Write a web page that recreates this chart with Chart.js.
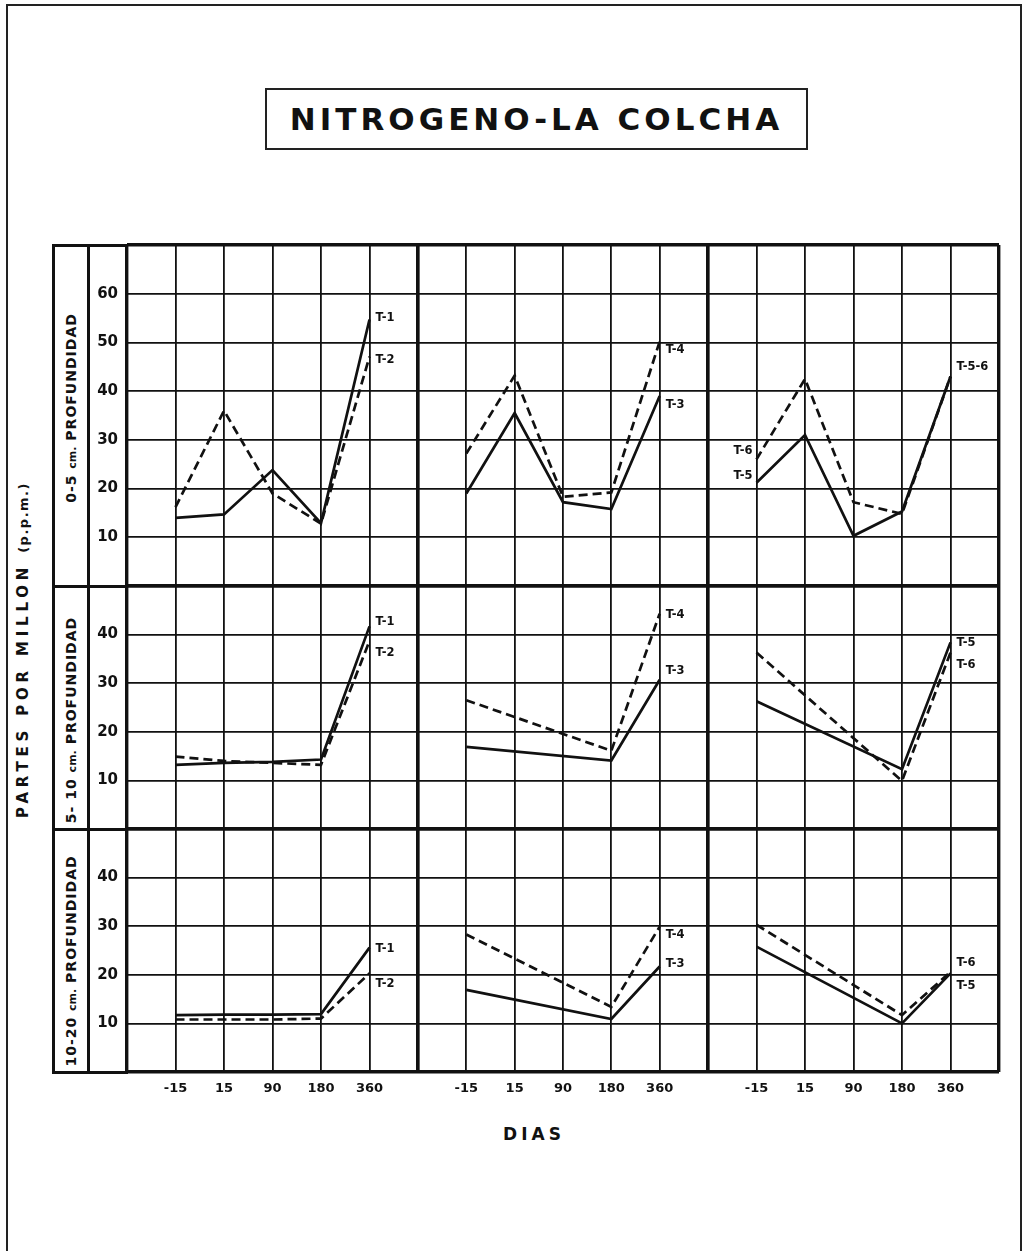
<!DOCTYPE html>
<html>
<head>
<meta charset="utf-8">
<title>Nitrógeno - La Colcha</title>
<script src="https://cdn.jsdelivr.net/npm/chart.js@4.4.1/dist/chart.umd.min.js"></script>
<style>
  html, body { margin: 0; padding: 0; background: #fff; }
  #page { position: relative; width: 1028px; height: 1251px; overflow: hidden;
          font-family: "DejaVu Sans", sans-serif; color: #111; background: #fff; }
  .abs { position: absolute; }
  #frame { left: 6px; top: 4px; width: 1016px; height: 1300px; border: 2px solid #222; box-sizing: border-box; }
  #titleBox { left: 265px; top: 88px; width: 543px; height: 62px; border: 2px solid #222; box-sizing: border-box;
              display: flex; align-items: center; justify-content: center; }
  #titleBox span { font-size: 31px; font-weight: bold; letter-spacing: 4px; white-space: nowrap; }
  .rot { transform: translate(-50%, -50%) rotate(-90deg); white-space: nowrap; font-weight: bold; }
  .rowBox { border: 3px solid #111; box-sizing: border-box; }
  .divider { width: 3px; background: #111; }
  .rowLabel { font-size: 14px; letter-spacing: 1px; }
  .rowLabel small { font-size: 11px; letter-spacing: 0; font-weight: bold; }
  #yTitle { font-size: 15px; letter-spacing: 4.8px; }
  #yTitle small { font-size: 13px; letter-spacing: 1.5px; }
  #xTitle { transform: translate(-50%, -50%); font-size: 17px; font-weight: 900; letter-spacing: 4px; }
  canvas { position: absolute; }
</style>
</head>
<body>
<div id="page">
  <div id="frame" class="abs"></div>
  <div id="titleBox" class="abs"><span>NITROGENO-LA COLCHA</span></div>
  <div id="yTitle" class="abs rot" style="left:23px; top:650px;">PARTES POR MILLON <small>(p.p.m.)</small></div>
  <div id="xTitle" class="abs" style="left:534px; top:1134px;">DIAS</div>
</div>
<script>
// Sampling days (x axis categories)
const dias = ['-15', '15', '90', '180', '360'];

// Y tick labels per depth band
const yTicks0to5 = ['10', '20', '30', '40', '50', '60'];
const yTicks5to20 = ['10', '20', '30', '40'];

// Depth band titles
const bandTitles = [
  ['0-5', 'cm.', 'PROFUNDIDAD'],
  ['5- 10', 'cm.', 'PROFUNDIDAD'],
  ['10-20', 'cm.', 'PROFUNDIDAD']
];

// Nitrogen, ppm — 0-5 cm depth
const t1_0_5 = [14.0, 14.7, 23.8, 12.9, 54.7];
const t2_0_5 = [16.2, 36.0, 19.0, 12.8, 47.1];
const t3_0_5 = [19.0, 35.5, 17.2, 15.8, 39.0];
const t4_0_5 = [27.2, 43.2, 18.3, 19.2, 50.2];
const t5_0_5 = [21.2, 31.0, 10.3, 15.3, 43.0];
const t6_0_5 = [26.0, 42.5, 17.2, 14.8, 43.0];

// Nitrogen, ppm — 5-10 cm depth
const t1_5_10 = [13.2, 13.6, 13.8, 14.3, 41.7];
const t2_5_10 = [14.9, 14.0, 13.6, 13.2, 38.7];
const t3_5_10 = [16.9, null, null, 14.1, 30.7];
const t4_5_10 = [26.5, null, null, 16.1, 44.3];
const t5_5_10 = [26.3, null, null, 12.3, 38.4];
const t6_5_10 = [36.3, null, null, 9.9, 36.3];

// Nitrogen, ppm — 10-20 cm depth
const t1_10_20 = [11.7, 11.8, 11.8, 11.9, 25.6];
const t2_10_20 = [10.8, 10.8, 10.8, 11.0, 20.3];
const t3_10_20 = [16.9, null, null, 10.9, 21.7];
const t4_10_20 = [28.3, null, null, 13.4, 29.9];
const t5_10_20 = [25.8, null, null, 10.0, 20.3];
const t6_10_20 = [30.3, null, null, 11.7, 20.6];

// ---- layout ----
const UX = 48.45, UY = 48.65;          // grid cell size in px
const GRID_LEFT = 127, GRID_TOP = 245;
const CELLS_X = 6;                      // cells across one panel
const bandMax = [70, 50, 50];
const bandTicks = [yTicks0to5, yTicks5to20, yTicks5to20];
const PAD = 4, YW = 39, XH = 34;
const INK = '#111';

const colEdges = [0, 1, 2, 3].map(c => Math.round(GRID_LEFT + c * CELLS_X * UX));
const rowEdges = [GRID_TOP];
bandMax.forEach(m => rowEdges.push(rowEdges[rowEdges.length - 1] + (m / 10) * UY));
const rowPx = rowEdges.map(v => Math.round(v));

const panels = [
  { row: 0, col: 0, series: [['T-1', t1_0_5], ['T-2', t2_0_5]],
    labels: [{ ds: 0, at: 'end', dy: -2 }, { ds: 1, at: 'end', dy: 3 }] },
  { row: 0, col: 1, series: [['T-3', t3_0_5], ['T-4', t4_0_5]],
    labels: [{ ds: 0, at: 'end', dy: 9 }, { ds: 1, at: 'end', dy: 9 }] },
  { row: 0, col: 2, series: [['T-5', t5_0_5], ['T-6', t6_0_5]],
    labels: [{ ds: 0, at: 'start', dy: -7 }, { ds: 1, at: 'start', dy: -8 },
             { ds: 0, at: 'end', dy: -10, text: 'T-5-6' }] },
  { row: 1, col: 0, series: [['T-1', t1_5_10], ['T-2', t2_5_10]],
    labels: [{ ds: 0, at: 'end', dy: -4 }, { ds: 1, at: 'end', dy: 12 }] },
  { row: 1, col: 1, series: [['T-3', t3_5_10], ['T-4', t4_5_10]],
    labels: [{ ds: 0, at: 'end', dy: -9 }, { ds: 1, at: 'end', dy: 1 }] },
  { row: 1, col: 2, series: [['T-5', t5_5_10], ['T-6', t6_5_10]],
    labels: [{ ds: 0, at: 'end', dy: 1 }, { ds: 1, at: 'end', dy: 12 }] },
  { row: 2, col: 0, series: [['T-1', t1_10_20], ['T-2', t2_10_20]],
    labels: [{ ds: 0, at: 'end', dy: 1 }, { ds: 1, at: 'end', dy: 11 }] },
  { row: 2, col: 1, series: [['T-3', t3_10_20], ['T-4', t4_10_20]],
    labels: [{ ds: 0, at: 'end', dy: -3 }, { ds: 1, at: 'end', dy: 8 }] },
  { row: 2, col: 2, series: [['T-5', t5_10_20], ['T-6', t6_10_20]],
    labels: [{ ds: 0, at: 'end', dy: 13 }, { ds: 1, at: 'end', dy: -9 }] }
];

// Series name tags drawn next to the first or last point of a line
const seriesTags = {
  id: 'seriesTags',
  afterDatasetsDraw(chart, args, opts) {
    const { ctx } = chart;
    const xs = chart.scales.x, ys = chart.scales.y;
    ctx.save();
    ctx.font = 'bold 11.5px "DejaVu Sans"';
    ctx.fillStyle = INK;
    ctx.textBaseline = 'middle';
    (opts.items || []).forEach(it => {
      const ds = chart.data.datasets[it.ds];
      const pts = ds.data.filter(p => p.y !== null);
      const pt = it.at === 'start' ? pts[0] : pts[pts.length - 1];
      const px = xs.getPixelForValue(pt.x);
      const py = ys.getPixelForValue(pt.y);
      ctx.textAlign = it.at === 'start' ? 'right' : 'left';
      ctx.fillText(it.text || ds.label, px + (it.at === 'start' ? -4 : 6), py + it.dy);
    });
    ctx.restore();
  }
};

const page = document.getElementById('page');

// Depth band boxes at the left of the grid
bandTitles.forEach((t, r) => {
  const top = rowPx[r], h = rowPx[r + 1] - rowPx[r];
  const box = document.createElement('div');
  box.className = 'abs rowBox';
  Object.assign(box.style, { left: '52px', top: (top - 1.5) + 'px', width: '76px', height: (h + 3) + 'px' });
  page.appendChild(box);
  const div = document.createElement('div');
  div.className = 'abs divider';
  Object.assign(div.style, { left: '86.5px', top: top + 'px', height: h + 'px' });
  page.appendChild(div);
  const lab = document.createElement('div');
  lab.className = 'abs rot rowLabel';
  const shift = [-8, 12, 10][r];
  Object.assign(lab.style, { left: '70.5px', top: (top + h / 2 + shift) + 'px' });
  lab.innerHTML = t[0] + ' <small>' + t[1] + '</small> ' + t[2];
  page.appendChild(lab);
});

const edgeWidth = (max) => (c) => (c.tick && (c.tick.value === 0 || c.tick.value === max)) ? 3.4 : 1.8;

// Keep every panel's plot area on the shared grid: no label overhang padding
const noOverhang = (s) => { s.paddingTop = 0; s.paddingBottom = 0; s.paddingLeft = 0; s.paddingRight = 0; };

panels.forEach(p => {
  const left = colEdges[p.col] - PAD - (p.col === 0 ? YW : 0);
  const right = colEdges[p.col + 1] + PAD;
  const top = rowPx[p.row] - PAD;
  const bottom = rowPx[p.row + 1] + PAD + (p.row === 2 ? XH : 0);
  const cv = document.createElement('canvas');
  cv.width = right - left; cv.height = bottom - top;
  cv.style.left = left + 'px'; cv.style.top = top + 'px';
  cv.style.width = cv.width + 'px'; cv.style.height = cv.height + 'px';
  page.appendChild(cv);

  const ymax = bandMax[p.row];
  const yLabels = bandTicks[p.row];

  new Chart(cv.getContext('2d'), {
    type: 'line',
    data: {
      datasets: p.series.map(([name, vals], i) => ({
        label: name,
        data: dias.map((d, k) => ({ x: k + 1, y: vals[k] })),
        borderColor: INK,
        borderWidth: 2.7,
        borderDash: i === 0 ? [] : [9, 5],
        pointRadius: 0,
        tension: 0,
        fill: false,
        spanGaps: true
      }))
    },
    options: {
      responsive: false,
      animation: false,
      devicePixelRatio: 1,
      layout: { padding: { left: PAD, right: PAD, top: PAD, bottom: PAD } },
      plugins: {
        legend: { display: false },
        tooltip: { enabled: false },
        seriesTags: { items: p.labels }
      },
      scales: {
        x: {
          type: 'linear', min: 0, max: CELLS_X,
          border: { display: false },
          grid: { color: INK, lineWidth: edgeWidth(CELLS_X), drawTicks: false },
          ticks: {
            display: p.row === 2, stepSize: 1, padding: 9, color: INK, maxRotation: 0,
            font: { family: 'DejaVu Sans', size: 13, weight: 'bold' },
            callback: v => (v >= 1 && v <= dias.length) ? dias[v - 1] : ''
          },
          afterFit: s => { s.height = p.row === 2 ? XH : 0; noOverhang(s); }
        },
        y: {
          type: 'linear', min: 0, max: ymax,
          border: { display: false },
          grid: { color: INK, lineWidth: edgeWidth(ymax), drawTicks: false },
          ticks: {
            display: p.col === 0, stepSize: 10, padding: 9, crossAlign: 'center', color: INK,
            font: { family: 'DejaVu Sans', size: 15, weight: 'bold' },
            callback: v => yLabels.includes(String(v)) ? String(v) : ''
          },
          afterFit: s => { s.width = p.col === 0 ? YW : 0; noOverhang(s); }
        }
      }
    },
    plugins: [seriesTags]
  });
});
</script>
</body>
</html>
